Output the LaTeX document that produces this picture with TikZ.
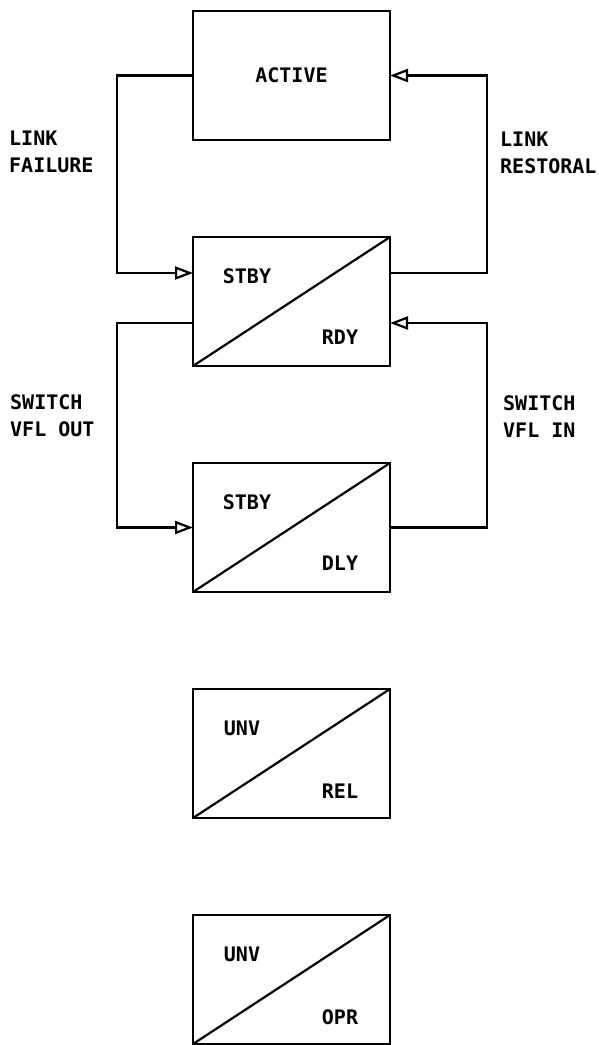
\documentclass[tikz,border=0pt]{standalone}
\usepackage{fontspec}
\setmonofont{DejaVu Sans Mono}
\usetikzlibrary{arrows.meta, positioning}

\begin{document}
\begin{tikzpicture}[
    x=1pt, y=-1pt,
    node distance=97pt,
    statebox/.style={draw, line width=2.4pt, minimum width=197pt, minimum height=129pt, outer sep=0pt, inner sep=0pt},
    txt/.style={font=\ttfamily\bfseries\fontsize{20}{27}\selectfont, inner sep=0pt},
    side/.style={txt, align=left, anchor=west},
    split/.style={line width=2.2pt},
    arrow/.style={-{Triangle[open, length=18pt, width=13pt, line width=2.2pt]}, line width=2.2pt},
  ]
  \useasboundingbox (0,0) rectangle (598,1045);
  % Active
  \node[statebox] at (291.5,75.5) (active) {};
  \node[txt] at (active.center) (active_t) {ACTIVE};
  % Standby ready
  \node[statebox, below=of active] (rdy) {};
  \draw[split] (rdy.south west) -- (rdy.north east);
  \node[txt] at ([xshift=54pt,yshift=-39pt]rdy.north west) (rdy_u) {STBY};
  \node[txt] at ([xshift=147pt,yshift=-100pt]rdy.north west) (rdy_l) {RDY};
  % Standby delay
  \node[statebox, below=of rdy] (dly) {};
  \draw[split] (dly.south west) -- (dly.north east);
  \node[txt] at ([xshift=54pt,yshift=-39pt]dly.north west) (dly_u) {STBY};
  \node[txt] at ([xshift=147pt,yshift=-100pt]dly.north west) (dly_l) {DLY};
  % Unavailable released
  \node[statebox, below=of dly] (rel) {};
  \draw[split] (rel.south west) -- (rel.north east);
  \node[txt] at ([xshift=49pt,yshift=-39pt]rel.north west) (rel_u) {UNV};
  \node[txt] at ([xshift=147pt,yshift=-102pt]rel.north west) (rel_l) {REL};
  % Unavailable operator
  \node[statebox, below=of rel] (opr) {};
  \draw[split] (opr.south west) -- (opr.north east);
  \node[txt] at ([xshift=49pt,yshift=-39pt]opr.north west) (opr_u) {UNV};
  \node[txt] at ([xshift=147pt,yshift=-102pt]opr.north west) (opr_l) {OPR};
  % Transitions
  \draw[arrow] (active.west) -- ++(-76,0) |- ([yshift=28.5pt]rdy.west);
  \draw[arrow] ([yshift=28.5pt]rdy.east) -- ++(97,0) |- (active.east);
  \draw[arrow] ([yshift=-21.5pt]rdy.west) -- ++(-76,0) |- (dly.west);
  \draw[arrow] (dly.east) -- ++(97,0) |- ([yshift=-21.5pt]rdy.east);
  % Transition labels
  \node[side] at (9,152) (fail) {LINK\\FAILURE};
  \node[side] at (500,153) (rest) {LINK\\RESTORAL};
  \node[side] at (10,416) (vout) {SWITCH\\VFL OUT};
  \node[side] at (503,417) (vin) {SWITCH\\VFL IN};
\end{tikzpicture}
\end{document}
